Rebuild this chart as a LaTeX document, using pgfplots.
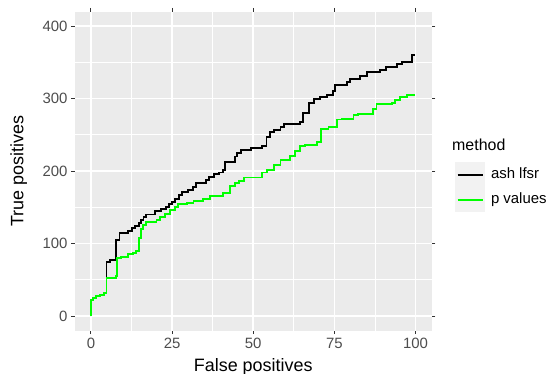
\documentclass[border=0pt]{standalone}
\usepackage{fontspec}
\setmainfont{Liberation Sans}
\usepackage{pgfplots}
\pgfplotsset{compat=1.18}
\definecolor{ggbg}{HTML}{EBEBEB}
\definecolor{ggtick}{HTML}{333333}
\definecolor{ggtext}{HTML}{4D4D4D}
\definecolor{ggkey}{HTML}{F2F2F2}
\definecolor{ggreen}{HTML}{00FF00}
\begin{document}
\begin{tikzpicture}
\useasboundingbox (0,0) rectangle (551bp,374bp);
\begin{axis}[
 at={(74.7bp,43.5bp)}, anchor=south west,
 scale only axis, width=357bp, height=319bp,
 xmin=-5, xmax=105, ymin=-20, ymax=420,
 xtick={0,25,50,75,100}, ytick={0,100,200,300,400},
 minor xtick={12.5,37.5,62.5,87.5}, minor ytick={50,150,250,350},
 grid=both,
 major grid style={white, line width=1.5bp},
 minor grid style={white, line width=0.75bp},
 axis background/.style={fill=ggbg},
 axis line style={draw=none},
 tick align=outside,
 major tick length=3.7bp, minor tick length=0pt,
 tick style={ggtick, line width=1bp},
 ticklabel style={font=\fontsize{15}{18}\selectfont, text=ggtext},
 /pgf/number format/assume math mode=true,
 xlabel={False positives}, ylabel={True positives},
 label style={font=\fontsize{18}{21}\selectfont},
 xlabel style={at={(axis description cs:0.5,-0.127)}, anchor=base},
 ylabel style={at={(axis description cs:-0.144,0.5)}, anchor=base},
 legend cell align=left,
 legend style={at={(axis description cs:1.065,0.528)}, anchor=north west,
   draw=none, fill=none, inner sep=0pt, row sep=0pt, column sep=0pt,
   font=\fontsize{15}{18}\selectfont,
   nodes={inner sep=0pt, anchor=west, text height=11bp, text depth=3bp}},
 legend image code/.code={%
   \fill[ggkey] (0bp,-11.5bp) rectangle (28bp,11.5bp);
   \path (34bp,0bp);
   \draw[#1, line width=1.9bp] (1.5bp,0bp) -- (26.5bp,0bp);},
]
\addplot[const plot, black, line width=1.9bp] coordinates {
(0,0)(0,22)(0.7,25)(1.7,27)(2.9,29)(4,32)(4.8,75)(6,77)(7.7,105)(8.8,114)(11.5,117)(12.6,121)(13.6,124)(14.7,128)(15.5,133)(16.2,137)(17,140)(19.7,145)(21.5,148)(23,150)(24,155)(25,157)(26,161)(27,167)(28,171)(29.8,174)(31.4,178)(32.4,183)(35.5,187)(36.5,192)(37.9,196)(39.6,198)(40.7,201)(41.2,213)(44.3,220)(45,225)(46.3,229)(49.4,232)(52.8,235)(54.1,247)(55.3,254)(56.3,257)(58.4,261)(59.4,265)(64.5,268)(65.3,280)(67.1,294)(68.6,299)(70.7,302)(72.8,305)(74.6,310)(75.3,319)(78.9,323)(79.7,327)(83,331)(85.1,336)(89,339)(91,344)(94.3,347)(95.8,350)(98.9,360)(100,360)
};
\addlegendentry{ash lfsr}
\addplot[const plot, ggreen, line width=1.9bp] coordinates {
(0,0)(0,22)(0.7,25)(1.7,27)(2.9,29)(4,32)(4.8,52)(7.7,55)(8,80)(9.4,82)(11.4,85)(13,87)(14,90)(14.8,108)(15.3,120)(16,126)(17.1,130)(20.2,133)(21.2,137)(22.8,141)(24.3,146)(25.9,150)(26.9,154)(29.5,156)(31.6,159)(34.6,161)(36.7,166)(40.8,170)(42.9,179)(44.4,183)(45.7,186)(47.1,191)(52.8,198)(54.3,202)(56.3,208)(58.4,215)(61.2,221)(62.9,228)(64.3,234)(66,236)(69.6,240)(71,258)(73.2,261)(75.8,271)(77.3,272)(80.9,277)(82.4,279)(86.8,285)(88,292)(92.7,294)(93.7,298)(95.3,302)(97.3,305)(100,305)
};
\addlegendentry{p values}
\end{axis}
\node[anchor=base west, font=\fontsize{16}{19}\selectfont, inner sep=0pt] at (452bp,223bp) {method};
\end{tikzpicture}
\end{document}
